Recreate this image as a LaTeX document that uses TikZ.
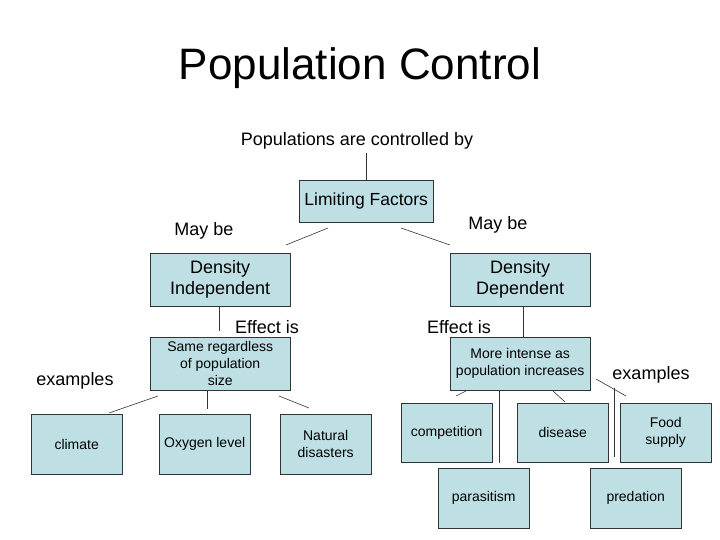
\documentclass[tikz,border=0pt]{standalone}
\usepackage{fontspec}
\setmainfont{Liberation Sans}
\begin{document}
\begin{tikzpicture}[x=1pt,y=-1pt,
 box/.style={draw=black!80,fill={rgb,255:red,190;green,224;blue,228},inner sep=1pt,align=center,anchor=north west},
 big/.style={font=\fontsize{18}{21}\selectfont},
 sm/.style={font=\fontsize{14}{17}\selectfont},
 lbl/.style={font=\fontsize{18}{21}\selectfont},
 ln/.style={draw=black!80,line width=0.6pt}]
\useasboundingbox (0,0) rectangle (720,540);
\node[font=\fontsize{44}{50}\selectfont] (title) at (360,68) {Population Control};
\node[lbl] (ctrl) at (357,141) {Populations are controlled by};
\node[box,font=\fontsize{17.5}{21}\selectfont,minimum width=134,minimum height=42] (lf) at (299,180) {Limiting Factors};
\node[box,big,minimum width=140,minimum height=53] (di) at (150,253) {Density\\Independent};
\node[box,big,minimum width=140,minimum height=53] (dd) at (450,253) {Density\\Dependent};
\node[box,sm,minimum width=140,minimum height=53] (same) at (150,337) {Same regardless\\of population\\size};
\node[box,sm,minimum width=140,minimum height=53] (more) at (450,337) {More intense as\\population increases};
\node[box,sm,minimum width=91,minimum height=60] (clim) at (31,414) {climate};
\node[box,sm,minimum width=91,minimum height=60] (oxy) at (159,414) {Oxygen level};
\node[box,sm,minimum width=91,minimum height=60] (nat) at (280,414) {Natural\\disasters};
\node[box,sm,minimum width=91,minimum height=59] (comp) at (401,403) {competition};
\node[box,sm,minimum width=91,minimum height=59] (dis) at (517,403) {disease};
\node[box,sm,minimum width=91,minimum height=59] (food) at (620,403) {Food\\supply};
\node[box,sm,minimum width=91,minimum height=60] (para) at (438,468) {parasitism};
\node[box,sm,minimum width=91,minimum height=60] (pred) at (590,468) {predation};
\node[lbl] (mb1) at (204,231) {May be};
\node[lbl] (mb2) at (498,225) {May be};
\node[lbl] (ef1) at (267,327) {Effect is};
\node[lbl] (ef2) at (459,327) {Effect is};
\node[lbl] (ex1) at (75,381) {examples};
\node[lbl] (ex2) at (651,375) {examples};
\coordinate (a1) at (328,228); \coordinate (a2) at (286,245);
\coordinate (b1) at (401,228); \coordinate (b2) at (450,245);
\coordinate (c1) at (158,396); \coordinate (c2) at (109,413);
\coordinate (d1) at (279,396); \coordinate (d2) at (309,408);
\coordinate (e1) at (466,391); \coordinate (e2) at (456,396);
\coordinate (f1) at (553,391); \coordinate (f2) at (565,402);
\coordinate (g1) at (596,379); \coordinate (g2) at (626,396);
\coordinate (h1) at (614,388); \coordinate (h2) at (614,457);
\draw[ln] (ctrl.south -| lf.north) -- (lf.north);
\draw[ln] (a1) -- (a2);
\draw[ln] (b1) -- (b2);
\draw[ln] (219,306) -- (219,331);
\draw[ln] (523,306) -- (523,337);
\draw[ln] (c1) -- (c2);
\draw[ln] (207,390) -- (207,409);
\draw[ln] (d1) -- (d2);
\draw[ln] (e1) -- (e2);
\draw[ln] (499,390) -- (499,463);
\draw[ln] (f1) -- (f2);
\draw[ln] (g1) -- (g2);
\draw[ln] (h1) -- (h2);
\end{tikzpicture}
\end{document}
